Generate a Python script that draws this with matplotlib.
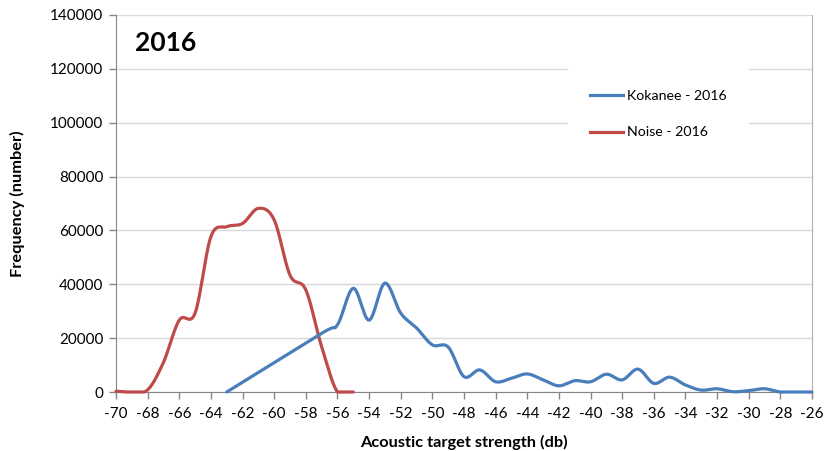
import matplotlib
matplotlib.use("Agg")
import matplotlib.pyplot as plt
from matplotlib.lines import Line2D
import numpy as np

plt.rcParams['font.family'] = ['Lato', 'DejaVu Sans']

# Data
kok_x = [-63, -57, -56, -55, -54, -53, -52, -51, -50, -49, -48, -47, -46, -45, -44,
         -43, -42, -41, -40, -39, -38, -37, -36, -35, -34, -33, -32, -31, -30, -29,
         -28, -27, -26]
kok_y = [0, 21800, 25000, 38500, 26700, 40400, 29300, 23800, 17500, 16700, 5700, 8200,
         3800, 5100, 6700, 4500, 2300, 4200, 3800, 6600, 4500, 8500, 3200, 5500, 2600,
         700, 1200, 100, 500, 1200, 0, 0, 0]

noise_x = [-70, -69, -68, -67, -66, -65, -64, -63, -62, -61, -60, -59, -58, -57, -56, -55]
noise_y = [300, 0, 800, 11000, 26700, 29300, 57700, 61400, 62600, 68200, 63900, 43400,
           37900, 16800, 0, 0]

x_ticks = list(range(-70, -25, 2))
y_ticks = list(range(0, 140001, 20000))

BLUE = '#4A7EBB'
RED = '#BE4B48'


def smooth_curve(xs, ys, steps=30):
    """Excel-like smoothed line rendering (cubic Bezier through the points)."""
    pts = np.column_stack([xs, ys]).astype(float)
    n = len(pts)
    t = np.linspace(0, 1, steps)[:, None]
    out = [pts[:1]]
    for i in range(n - 1):
        p0 = pts[i - 1] if i > 0 else pts[i]
        p1 = pts[i]
        p2 = pts[i + 1]
        p3 = pts[i + 2] if i + 2 < n else pts[i + 1]
        c1 = p1 + (p2 - p0) / 6.0
        c2 = p2 - (p3 - p1) / 6.0
        seg = ((1 - t) ** 3) * p1 + 3 * ((1 - t) ** 2) * t * c1 + 3 * (1 - t) * t ** 2 * c2 + t ** 3 * p2
        out.append(seg[1:])
    c = np.vstack(out)
    return c[:, 0], np.maximum(c[:, 1], 0)


fig = plt.figure(figsize=(8.24, 4.51), dpi=100)
ax = fig.add_axes([116 / 824, 1 - 392 / 451, (812 - 116) / 824, (392 - 15) / 451])

ax.set_xlim(-70, -26)
ax.set_ylim(0, 140000)

for xs, ys, c in [(noise_x, noise_y, RED), (kok_x, kok_y, BLUE)]:
    sx, sy = smooth_curve(xs, ys)
    ax.plot(sx, sy, color=c, lw=2.3, solid_capstyle='round', solid_joinstyle='round',
            zorder=3, clip_on=False)

ax.set_xticks(x_ticks)
ax.set_yticks(y_ticks)
ax.set_xticklabels([str(v) for v in x_ticks])
ax.set_yticklabels([str(v) for v in y_ticks])
ax.tick_params(axis='both', direction='out', length=5, width=1, color='#868686',
               labelsize=11, labelcolor='black')
ax.tick_params(axis='x', pad=6)
ax.tick_params(axis='y', pad=4)

ax.grid(axis='y', color='#D9D9D9', lw=1, zorder=0)
ax.set_axisbelow(True)
for s in ['left', 'bottom', 'right']:
    ax.spines[s].set_color('#868686')
ax.spines['top'].set_visible(False)
ax.spines['right'].set_color('#B0B0B0')

ax.set_xlabel('Acoustic target strength (db)', fontsize=11.8, fontweight='bold', labelpad=10)
ax.set_ylabel('Frequency (number)', fontsize=11.8, fontweight='bold', labelpad=18)

ax.text(0.028, 0.925, '2016', transform=ax.transAxes, fontsize=19, fontweight='bold',
        va='center', ha='left')

handles = [Line2D([], [], color=BLUE, lw=2.3), Line2D([], [], color=RED, lw=2.3)]
leg = ax.legend(handles, ['Kokanee - 2016', 'Noise - 2016'],
                loc='upper left', bbox_to_anchor=((568 - 116) / 696, (392 - 68) / 377),
                frameon=True, fontsize=10.2, handlelength=2.32, labelspacing=1.73,
                borderpad=1.55, handletextpad=0.28, borderaxespad=0)
leg.get_frame().set_edgecolor('white')
leg.get_frame().set_facecolor('white')
leg.get_frame().set_alpha(1)
leg.get_frame().set_boxstyle('square', pad=0)

fig.savefig('out.png', dpi=100)
